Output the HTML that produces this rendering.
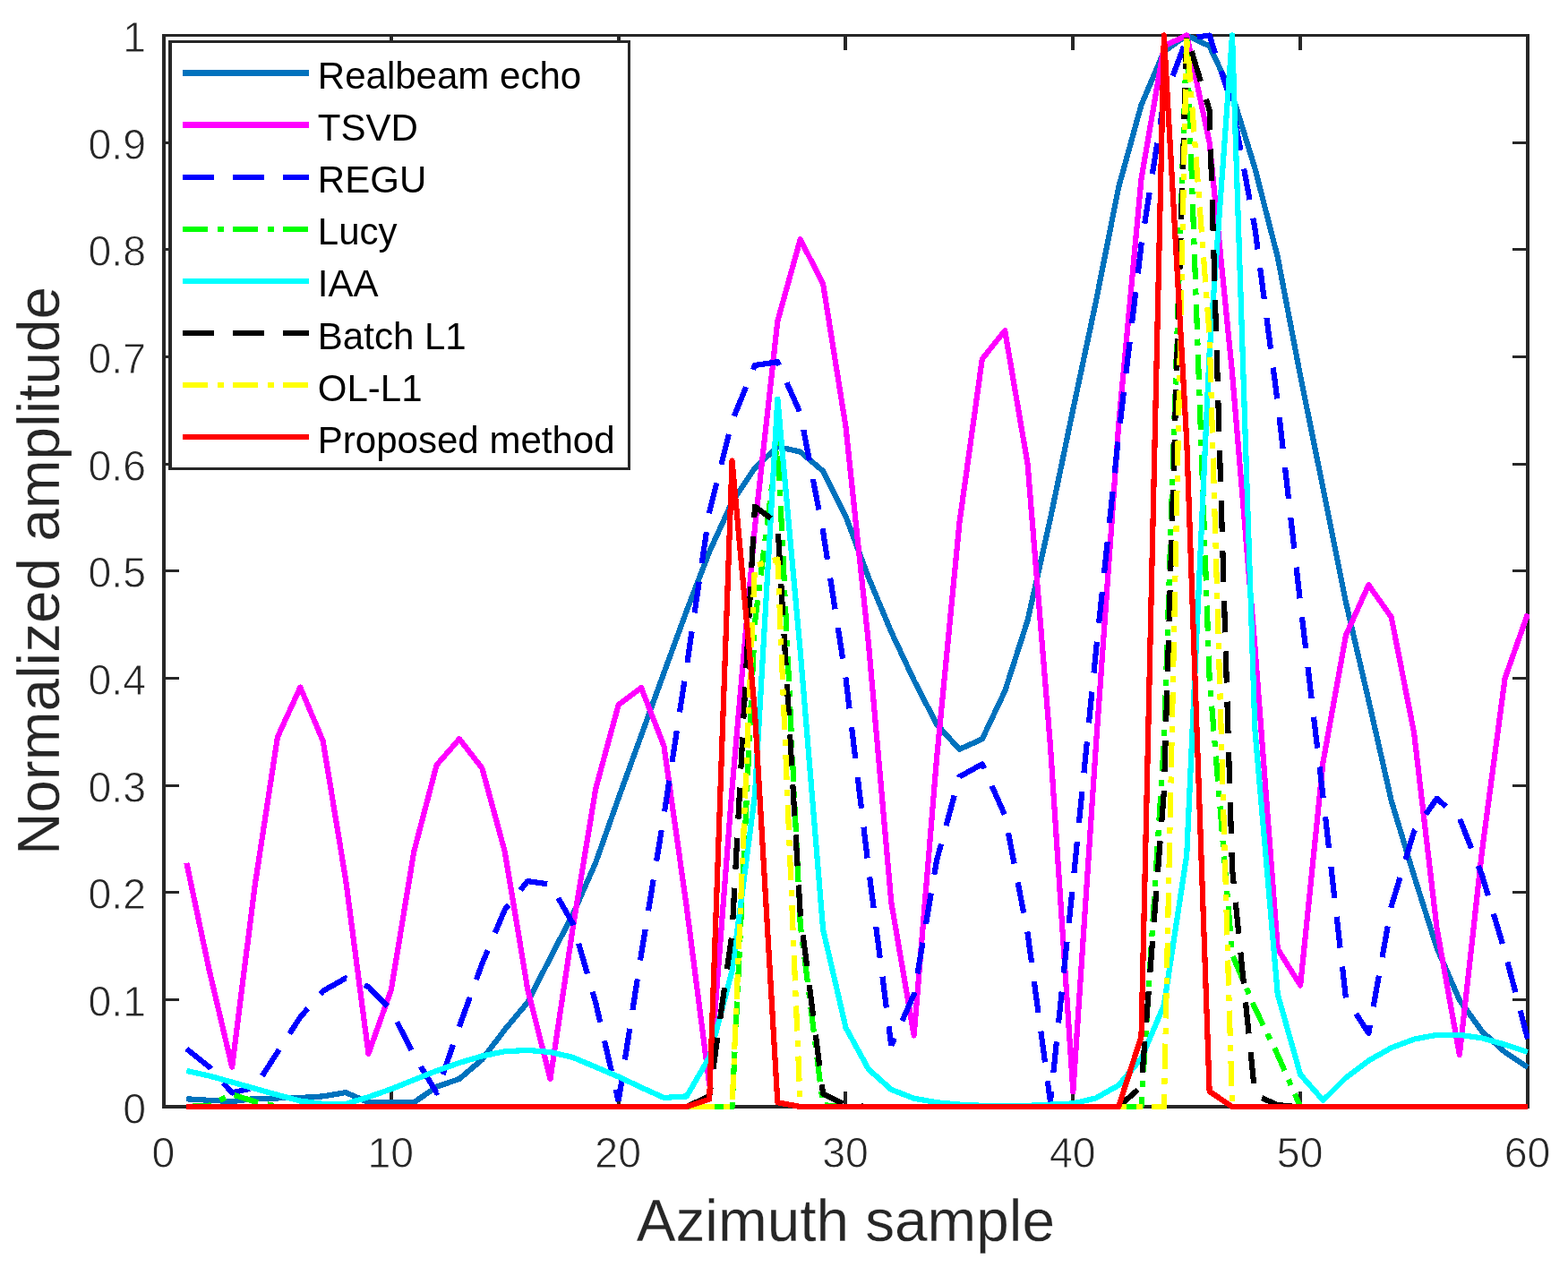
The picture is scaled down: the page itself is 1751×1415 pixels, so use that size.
<!DOCTYPE html>
<html lang="en"><head><meta charset="utf-8"><title>Normalized amplitude vs azimuth sample</title>
<style>
html,body{margin:0;padding:0;background:#fff;}
body{width:1751px;height:1415px;overflow:hidden;}
svg{display:block;}
text{font-family:'Liberation Sans', sans-serif;}
.tick{font-size:48.6px;fill:#262626;stroke:#ffffff;stroke-width:0.8px;}
.lab{font-size:66.7px;fill:#262626;stroke:#ffffff;stroke-width:0.25px;}
.leg{font-size:41.8px;fill:#000;}
.curve{fill:none;stroke-width:6.20;stroke-linejoin:round;stroke-linecap:butt;shape-rendering:crispEdges;}
.ax{fill:none;stroke:#262626;stroke-width:3.60;stroke-linecap:square;}
</style></head><body>
<svg role="img" aria-label="Normalized amplitude versus azimuth sample" width="1751" height="1415" viewBox="0 0 1751 1415">
<rect x="0" y="0" width="1751" height="1415" fill="#ffffff"/>
<defs><clipPath id="plotclip"><rect x="181.00" y="34.00" width="1527.00" height="1207.00"/></clipPath></defs>
<g fill="#262626" shape-rendering="crispEdges">
<rect x="181" y="38" width="4" height="1200"/>
<rect x="1704" y="38" width="4" height="1200"/>
<rect x="181" y="38" width="1527" height="3"/>
<rect x="181" y="1234" width="1527" height="4"/>
<rect x="435" y="1219" width="4" height="15"/>
<rect x="435" y="41" width="4" height="15"/>
<rect x="689" y="1219" width="4" height="15"/>
<rect x="689" y="41" width="4" height="15"/>
<rect x="942" y="1219" width="4" height="15"/>
<rect x="942" y="41" width="4" height="15"/>
<rect x="1196" y="1219" width="4" height="15"/>
<rect x="1196" y="41" width="4" height="15"/>
<rect x="1450" y="1219" width="4" height="15"/>
<rect x="1450" y="41" width="4" height="15"/>
<rect x="185" y="1115" width="15" height="3"/>
<rect x="1689" y="1115" width="15" height="3"/>
<rect x="185" y="995" width="15" height="3"/>
<rect x="1689" y="995" width="15" height="3"/>
<rect x="185" y="876" width="15" height="3"/>
<rect x="1689" y="876" width="15" height="3"/>
<rect x="185" y="756" width="15" height="3"/>
<rect x="1689" y="756" width="15" height="3"/>
<rect x="185" y="636" width="15" height="3"/>
<rect x="1689" y="636" width="15" height="3"/>
<rect x="185" y="517" width="15" height="3"/>
<rect x="1689" y="517" width="15" height="3"/>
<rect x="185" y="397" width="15" height="3"/>
<rect x="1689" y="397" width="15" height="3"/>
<rect x="185" y="277" width="15" height="3"/>
<rect x="1689" y="277" width="15" height="3"/>
<rect x="185" y="158" width="15" height="3"/>
<rect x="1689" y="158" width="15" height="3"/>
</g>
<g class="tick" text-anchor="middle">
<text transform="translate(182.50 1303.90) scale(0.955 1)">0</text>
<text transform="translate(436.33 1303.90) scale(0.955 1)">10</text>
<text transform="translate(690.17 1303.90) scale(0.955 1)">20</text>
<text transform="translate(944.00 1303.90) scale(0.955 1)">30</text>
<text transform="translate(1197.83 1303.90) scale(0.955 1)">40</text>
<text transform="translate(1451.67 1303.90) scale(0.955 1)">50</text>
<text transform="translate(1705.50 1303.90) scale(0.955 1)">60</text>
</g>
<g class="tick" text-anchor="end">
<text transform="translate(163.00 1254.60) scale(0.955 1)">0</text>
<text transform="translate(163.00 1134.95) scale(0.955 1)">0.1</text>
<text transform="translate(163.00 1015.30) scale(0.955 1)">0.2</text>
<text transform="translate(163.00 895.65) scale(0.955 1)">0.3</text>
<text transform="translate(163.00 776.00) scale(0.955 1)">0.4</text>
<text transform="translate(163.00 656.35) scale(0.955 1)">0.5</text>
<text transform="translate(163.00 536.70) scale(0.955 1)">0.6</text>
<text transform="translate(163.00 417.05) scale(0.955 1)">0.7</text>
<text transform="translate(163.00 297.40) scale(0.955 1)">0.8</text>
<text transform="translate(163.00 177.75) scale(0.955 1)">0.9</text>
<text transform="translate(163.00 58.10) scale(0.955 1)">1</text>
</g>
<text class="lab" text-anchor="middle" transform="translate(944.30 1385.80) scale(0.985 1)">Azimuth sample</text>
<text class="lab" text-anchor="middle" transform="translate(66.00 637.50) rotate(-90) scale(0.985 1)">Normalized amplitude</text>
<g clip-path="url(#plotclip)">
<polyline class="curve" stroke="#0072bd" points="208.38,1227.27 233.77,1228.82 259.15,1230.02 284.53,1227.03 309.92,1226.43 335.30,1225.95 360.68,1224.39 386.07,1220.09 411.45,1231.21 436.83,1231.57 462.22,1231.21 487.60,1213.75 512.98,1204.89 538.37,1183.35 563.75,1149.85 589.13,1119.58 614.52,1069.69 639.90,1020.63 665.28,963.20 690.67,891.41 716.05,821.41 741.43,751.42 766.82,682.02 792.20,616.21 817.58,560.58 842.97,522.65 868.35,498.96 893.73,504.58 919.12,526.12 944.50,576.73 969.88,644.93 995.27,705.71 1020.65,759.79 1046.03,808.85 1071.42,836.85 1096.80,825.36 1122.18,771.88 1147.57,692.91 1172.95,579.12 1198.33,457.08 1223.72,337.43 1249.10,209.40 1274.48,117.27 1299.87,57.45 1325.25,39.50 1350.63,51.46 1376.02,105.31 1401.40,187.87 1426.78,287.18 1452.17,419.99 1477.55,545.62 1502.93,672.45 1528.32,782.05 1553.70,894.16 1579.08,978.15 1604.47,1058.44 1629.85,1116.95 1655.23,1152.13 1680.62,1175.10 1706.00,1192.09"/>
<polyline class="curve" stroke="#ff00ff" points="208.38,963.80 233.77,1084.04 259.15,1191.73 284.53,989.88 309.92,823.21 335.30,767.57 360.68,827.51 386.07,982.34 411.45,1176.77 436.83,1105.58 462.22,951.23 487.60,854.32 512.98,825.24 538.37,857.91 563.75,951.23 589.13,1104.38 614.52,1204.89 639.90,1034.99 665.28,880.64 690.67,787.19 716.05,768.05 741.43,833.02 766.82,1013.45 792.20,1211.23 817.58,880.16 842.97,588.69 868.35,358.61 893.73,267.31 919.12,317.09 944.50,476.82 969.88,718.39 995.27,1007.47 1020.65,1156.43 1046.03,847.14 1071.42,583.91 1096.80,400.96 1122.18,369.14 1147.57,518.10 1172.95,833.02 1198.33,1219.37 1223.72,835.17 1249.10,475.62 1274.48,199.83 1299.87,51.46 1325.25,39.50 1350.63,159.15 1376.02,416.40 1401.40,722.22 1426.78,1059.76 1452.17,1100.44 1477.55,850.73 1502.93,709.54 1528.32,653.30 1553.70,689.20 1579.08,818.42 1604.47,1036.18 1629.85,1178.09 1655.23,948.84 1680.62,757.40 1706.00,685.61"/>
<polyline class="curve" stroke="#0000ff" stroke-dasharray="35.074 21.044" points="208.38,1171.39 233.77,1191.73 259.15,1220.45 284.53,1214.46 309.92,1174.98 335.30,1136.09 360.68,1106.78 386.07,1092.42 411.45,1101.99 436.83,1128.32 462.22,1178.57 487.60,1220.45 512.98,1146.26 538.37,1076.27 563.75,1015.84 589.13,984.14 614.52,987.61 639.90,1031.76 665.28,1120.30 690.67,1230.02"/>
<polyline class="curve" stroke="#0000ff" stroke-dasharray="35.074 21.044" stroke-dashoffset="8.99" points="690.67,1230.02 716.05,1066.10 741.43,910.55 766.82,744.24 792.20,571.94 817.58,470.24 842.97,408.02 868.35,404.19 893.73,461.51 919.12,593.72 944.50,757.40 969.88,969.18 995.27,1167.80"/>
<polyline class="curve" stroke="#0000ff" stroke-dasharray="35.074 21.044" stroke-dashoffset="26.10" points="995.27,1167.80 1020.65,1110.37 1046.03,960.81 1071.42,867.48 1096.80,853.36 1122.18,910.55 1147.57,1042.17 1172.95,1230.62 1198.33,985.93 1223.72,728.68 1249.10,486.99 1274.48,273.66 1299.87,111.29 1325.25,43.09 1350.63,39.50 1376.02,117.27 1401.40,254.87 1426.78,449.30 1452.17,673.88 1477.55,890.21 1502.93,1114.44 1528.32,1153.92 1553.70,1012.25 1579.08,928.50 1604.47,891.77 1629.85,913.78 1655.23,978.15 1680.62,1063.46 1706.00,1160.26"/>
<polyline class="curve" stroke="#00ff00" stroke-dasharray="28.059 10.522 7.015 10.522" points="208.38,1236.00 233.77,1234.56 259.15,1222.24 284.53,1230.26 309.92,1235.76 335.30,1236.00 360.68,1236.00 386.07,1236.00 411.45,1236.00 436.83,1236.00 462.22,1236.00 487.60,1236.00 512.98,1236.00 538.37,1236.00 563.75,1236.00 589.13,1236.00 614.52,1236.00 639.90,1236.00 665.28,1236.00 690.67,1236.00 716.05,1236.00 741.43,1236.00 766.82,1236.00 792.20,1236.00"/>
<polyline class="curve" stroke="#00ff00" stroke-dasharray="28.059 10.522 7.015 10.522" stroke-dashoffset="53.45" points="792.20,1236.00 817.58,1236.00 842.97,695.54 868.35,492.02 893.73,1032.60 919.12,1234.21 944.50,1236.00 969.88,1236.00 995.27,1236.00 1020.65,1236.00 1046.03,1236.00 1071.42,1236.00 1096.80,1236.00 1122.18,1236.00 1147.57,1236.00 1172.95,1236.00 1198.33,1236.00 1223.72,1236.00 1249.10,1236.00 1274.48,1236.00 1299.87,829.19 1325.25,39.50 1350.63,757.40 1376.02,1066.10 1401.40,1125.92 1426.78,1178.09 1452.17,1236.00 1477.55,1236.00 1502.93,1236.00 1528.32,1236.00 1553.70,1236.00 1579.08,1236.00 1604.47,1236.00 1629.85,1236.00 1655.23,1236.00 1680.62,1236.00 1706.00,1236.00"/>
<polyline class="curve" stroke="#00ffff" points="208.38,1195.92 233.77,1201.54 259.15,1208.60 284.53,1215.66 309.92,1222.84 335.30,1229.54 360.68,1232.89 386.07,1232.89 411.45,1225.23 436.83,1216.26 462.22,1206.09 487.60,1195.92 512.98,1186.94 538.37,1179.41 563.75,1174.26 589.13,1172.94 614.52,1174.98 639.90,1180.96 665.28,1191.73 690.67,1202.50 716.05,1214.46 741.43,1225.95 766.82,1224.39 792.20,1180.60 817.58,1084.04 842.97,887.82 868.35,445.71 893.73,727.49 919.12,1038.10 944.50,1147.70 969.88,1194.12 995.27,1216.86 1020.65,1226.67 1046.03,1231.21 1071.42,1233.61 1096.80,1234.80 1122.18,1234.80 1147.57,1234.80 1172.95,1233.61 1198.33,1232.41 1223.72,1226.43 1249.10,1212.07 1274.48,1182.16 1299.87,1122.33 1325.25,954.82 1350.63,393.66 1376.02,39.50 1401.40,814.83 1426.78,1110.37 1452.17,1200.11 1477.55,1228.82 1502.93,1203.69 1528.32,1184.55 1553.70,1170.19 1579.08,1160.62 1604.47,1155.83 1629.85,1155.83 1655.23,1159.42 1680.62,1166.60 1706.00,1174.98"/>
<polyline class="curve" stroke="#000000" stroke-dasharray="35.074 21.044" points="208.38,1236.00 233.77,1236.00 259.15,1236.00 284.53,1236.00 309.92,1236.00 335.30,1236.00 360.68,1236.00 386.07,1236.00 411.45,1236.00 436.83,1236.00 462.22,1236.00 487.60,1236.00 512.98,1236.00 538.37,1236.00 563.75,1236.00 589.13,1236.00 614.52,1236.00 639.90,1236.00 665.28,1236.00 690.67,1236.00 716.05,1236.00 741.43,1236.00 766.82,1236.00 792.20,1224.04 817.58,1041.81 842.97,565.60 868.35,584.75 893.73,1020.63 919.12,1221.64 944.50,1234.21 969.88,1236.00 995.27,1236.00 1020.65,1236.00 1046.03,1236.00 1071.42,1236.00 1096.80,1236.00 1122.18,1236.00 1147.57,1236.00 1172.95,1236.00 1198.33,1236.00 1223.72,1236.00 1249.10,1236.00 1274.48,1213.75 1299.87,884.23 1325.25,39.50 1350.63,123.25 1376.02,970.38 1401.40,1222.60 1426.78,1234.21 1452.17,1236.00 1477.55,1236.00 1502.93,1236.00 1528.32,1236.00 1553.70,1236.00 1579.08,1236.00 1604.47,1236.00 1629.85,1236.00 1655.23,1236.00 1680.62,1236.00 1706.00,1236.00"/>
<polyline class="curve" stroke="#ffff00" stroke-dasharray="28.059 10.522 7.015 10.522" points="208.38,1236.00 233.77,1236.00 259.15,1236.00 284.53,1236.00 309.92,1236.00 335.30,1236.00 360.68,1236.00 386.07,1236.00 411.45,1236.00 436.83,1236.00 462.22,1236.00 487.60,1236.00 512.98,1236.00 538.37,1236.00 563.75,1236.00 589.13,1236.00 614.52,1236.00 639.90,1236.00 665.28,1236.00 690.67,1236.00 716.05,1236.00 741.43,1236.00 766.82,1236.00 792.20,1236.00 817.58,1236.00 842.97,631.77 868.35,624.59 893.73,1236.00 919.12,1236.00 944.50,1236.00 969.88,1236.00 995.27,1236.00 1020.65,1236.00 1046.03,1236.00 1071.42,1236.00 1096.80,1236.00 1122.18,1236.00 1147.57,1236.00 1172.95,1236.00 1198.33,1236.00 1223.72,1236.00 1249.10,1236.00 1274.48,1236.00 1299.87,1236.00 1325.25,39.50 1350.63,374.52 1376.02,1236.00 1401.40,1236.00 1426.78,1236.00 1452.17,1236.00 1477.55,1236.00 1502.93,1236.00 1528.32,1236.00 1553.70,1236.00 1579.08,1236.00 1604.47,1236.00 1629.85,1236.00 1655.23,1236.00 1680.62,1236.00 1706.00,1236.00"/>
<polyline class="curve" stroke="#ff0000" points="208.38,1236.00 233.77,1236.00 259.15,1236.00 284.53,1236.00 309.92,1236.00 335.30,1236.00 360.68,1236.00 386.07,1236.00 411.45,1236.00 436.83,1236.00 462.22,1236.00 487.60,1236.00 512.98,1236.00 538.37,1236.00 563.75,1236.00 589.13,1236.00 614.52,1236.00 639.90,1236.00 665.28,1236.00 690.67,1236.00 716.05,1236.00 741.43,1236.00 766.82,1236.00 792.20,1227.62 817.58,514.51 842.97,795.69 868.35,1231.21 893.73,1236.00 919.12,1236.00 944.50,1236.00 969.88,1236.00 995.27,1236.00 1020.65,1236.00 1046.03,1236.00 1071.42,1236.00 1096.80,1236.00 1122.18,1236.00 1147.57,1236.00 1172.95,1236.00 1198.33,1236.00 1223.72,1236.00 1249.10,1236.00 1274.48,1157.75 1299.87,39.50 1325.25,492.61 1350.63,1218.89 1376.02,1236.00 1401.40,1236.00 1426.78,1236.00 1452.17,1236.00 1477.55,1236.00 1502.93,1236.00 1528.32,1236.00 1553.70,1236.00 1579.08,1236.00 1604.47,1236.00 1629.85,1236.00 1655.23,1236.00 1680.62,1236.00 1706.00,1236.00"/>
</g>
<g shape-rendering="crispEdges">
<rect x="188" y="45" width="516" height="480" fill="#262626"/>
<rect x="192" y="48" width="509" height="474" fill="#ffffff"/>
</g>
<line class="curve" x1="204.00" y1="81.40" x2="345.00" y2="81.40" stroke="#0072bd"/>
<text class="leg" transform="translate(354.80 98.55) scale(1.006 1)">Realbeam echo</text>
<line class="curve" x1="204.00" y1="139.50" x2="345.00" y2="139.50" stroke="#ff00ff"/>
<text class="leg" transform="translate(354.80 156.74) scale(1.006 1)">TSVD</text>
<line class="curve" x1="204.00" y1="197.60" x2="345.00" y2="197.60" stroke="#0000ff" stroke-dasharray="35.100 21.060"/>
<text class="leg" transform="translate(354.80 214.93) scale(1.006 1)">REGU</text>
<line class="curve" x1="204.00" y1="255.70" x2="345.00" y2="255.70" stroke="#00ff00" stroke-dasharray="28.080 10.530 7.020 10.530"/>
<text class="leg" transform="translate(354.80 273.12) scale(1.006 1)">Lucy</text>
<line class="curve" x1="204.00" y1="313.80" x2="345.00" y2="313.80" stroke="#00ffff"/>
<text class="leg" transform="translate(354.80 331.31) scale(1.006 1)">IAA</text>
<line class="curve" x1="204.00" y1="371.90" x2="345.00" y2="371.90" stroke="#000000" stroke-dasharray="35.100 21.060"/>
<text class="leg" transform="translate(354.80 389.50) scale(1.006 1)">Batch L1</text>
<line class="curve" x1="204.00" y1="430.00" x2="345.00" y2="430.00" stroke="#ffff00" stroke-dasharray="28.080 10.530 7.020 10.530"/>
<text class="leg" transform="translate(354.80 447.69) scale(1.006 1)">OL-L1</text>
<line class="curve" x1="204.00" y1="488.10" x2="345.00" y2="488.10" stroke="#ff0000"/>
<text class="leg" transform="translate(354.80 505.88) scale(1.006 1)">Proposed method</text>
</svg>
</body></html>
